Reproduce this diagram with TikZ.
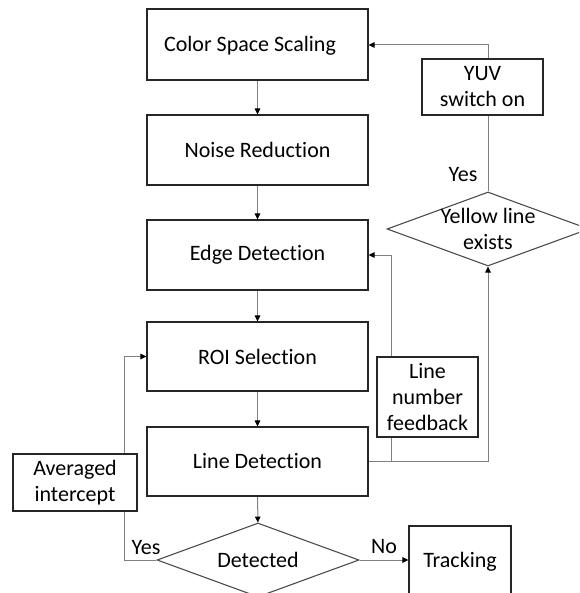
\documentclass[tikz,border=0pt]{standalone}
\usepackage{fontspec}
\setmainfont[Ligatures=NoCommon]{Carlito}
\usetikzlibrary{arrows.meta,shapes.geometric,backgrounds}
\begin{document}
\begin{tikzpicture}[x=1pt,y=-1pt,
  every node/.style={font=\fontsize{22}{26}\selectfont, text=black},
  box/.style={draw=black!85, line width=1.1pt, fill=white, inner sep=0pt, align=center},
  dia/.style={draw=black!70, line width=1.1pt, fill=white, diamond, inner sep=0pt, minimum width=202pt, minimum height=74pt},
  conn/.style={draw=black!50, line width=1pt},
  arr/.style={conn, -{Triangle[length=6pt,width=5.5pt,color=black]}},
  lbl/.style={inner sep=0pt},
  dtext/.style={align=center, inner sep=0pt}]
\useasboundingbox (0,0) rectangle (579,593);
\clip (0,0) rectangle (579,593);
% main column
\node[box, minimum width=221pt, minimum height=71pt] (css) at (257.5,44.5) {};
\node[dtext] (csst) at (250,46) {Color Space Scaling};
\node[box, minimum width=221pt, minimum height=70pt] (nr) at (257.5,150) {Noise Reduction};
\node[box, minimum width=221pt, minimum height=70pt] (ed) at (257.5,255) {Edge Detection};
\node[box, minimum width=221pt, minimum height=69pt] (roi) at (257.5,356.5) {ROI Selection};
\node[box, minimum width=221pt, minimum height=69pt] (ld) at (257.5,461.5) {Line Detection};
\node[dia] (det) at (258,560) {};
\node[dtext] (dett) at (258,560) {Detected};
\node[box, minimum width=102pt, minimum height=72pt] (trk) at (460,562) {Tracking};
% side boxes
\node[box, minimum width=124pt, minimum height=57pt] (avg) at (75,482.5) {Averaged\\intercept};
\node[box, minimum width=121pt, minimum height=56pt] (yuv) at (482.5,87) {YUV\\switch on};
\node[box, minimum width=101pt, minimum height=80pt] (lnf) at (427.5,397) {Line\\number\\feedback};
\node[dia] (yel) at (488,229) {};
\node[dtext] (yelt) at (488,229) {Yellow line\\exists};
% labels
\node[lbl] (yes1) at (463,175) {Yes};
\node[lbl] (no) at (384,547) {No};
\node[lbl] (yes2) at (146,548) {Yes};
% connectors
\begin{scope}[on background layer]
\draw[arr] (css) -- (nr);
\draw[arr] (nr) -- (ed);
\draw[arr] (ed) -- (roi);
\draw[arr] (roi) -- (ld);
\draw[arr] (ld) -- (det);
\draw[arr] (det.east) -- (trk.west |- det.east);
\coordinate (yl) at (124,560);
\coordinate (yt) at (124,356.5);
\draw[arr] (det.west) -- (yl) -- (yt) -- (roi.west);
\coordinate (yu) at (488,45);
\draw[arr] (yel.north) -- (yu) -- (css.east |- yu);
\coordinate (lr) at (488,461.5);
\draw[arr] (ld.east) -- (lr) -- (yel.south);
\coordinate (fb1) at (391,461.5);
\coordinate (fb2) at (391,255);
\draw[arr] (fb1) -- (fb2) -- (ed.east);
\end{scope}
\end{tikzpicture}
\end{document}
